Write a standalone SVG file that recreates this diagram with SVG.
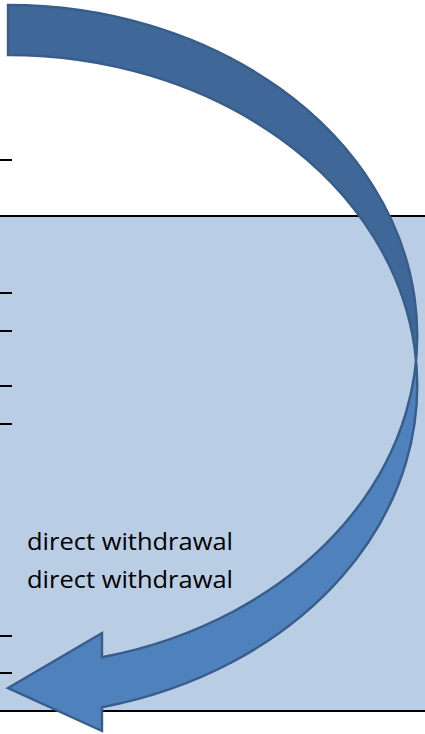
<svg xmlns="http://www.w3.org/2000/svg" width="425" height="734" viewBox="0 0 425 734">
  <style>
    .rule { stroke: #000; stroke-width: 2; fill: none; }
    .tick { stroke: #000; stroke-width: 2; }
    .lbl { font-family: "Open Sans", Lato, "Liberation Sans", sans-serif; font-size: 23px; fill: #000; }
    .front { fill: #4F81BD; stroke: none; }
    .back { fill: #3F6797; stroke: none; }
    .outline { fill: none; stroke: #385D8A; stroke-width: 2.4; stroke-linejoin: miter; }
  </style>
  <rect x="0" y="0" width="425" height="734" fill="#FFFFFF"/>
  <g id="band">
    <rect x="0" y="216" width="425" height="495" fill="#B9CDE5"/>
    <line class="rule" x1="0" y1="216" x2="425" y2="216"/>
    <line class="rule" x1="0" y1="711" x2="425" y2="711"/>
  </g>
  <g id="ticks">
    <line class="tick" x1="0" y1="160" x2="12" y2="160"/>
    <line class="tick" x1="0" y1="293" x2="12" y2="293"/>
    <line class="tick" x1="0" y1="331" x2="12" y2="331"/>
    <line class="tick" x1="0" y1="386" x2="12" y2="386"/>
    <line class="tick" x1="0" y1="424" x2="12" y2="424"/>
    <line class="tick" x1="0" y1="636" x2="12" y2="636"/>
    <line class="tick" x1="0" y1="673" x2="12" y2="673"/>
  </g>
  <g id="labels">
    <text class="lbl" x="27" y="550" textLength="206" lengthAdjust="spacingAndGlyphs">direct withdrawal</text>
    <text class="lbl" x="27" y="588" textLength="206" lengthAdjust="spacingAndGlyphs">direct withdrawal</text>
  </g>
  <g id="connectors">
    <g id="curved-arrow">
      <path class="front" d="M 102 657.2 L 102 633 L 8 688 L 102 731 L 102 707.2 A 409 330.5 0 0 0 417 385.5 L 417 335.5 A 409 330.5 0 0 1 102 657.2 Z"/>
      <path class="back" d="M 8 5 A 409 330.5 0 0 1 417 335.5 L 417 385.5 A 409 330.5 0 0 0 8 55 Z"/>
      <path class="outline" d="M 8 688 L 102 633 L 102 657.2 A 409 330.5 0 0 0 8 5 L 8 55 A 409 330.5 0 0 1 102 707.2 L 102 731 Z"/>
    </g>
  </g>
</svg>
